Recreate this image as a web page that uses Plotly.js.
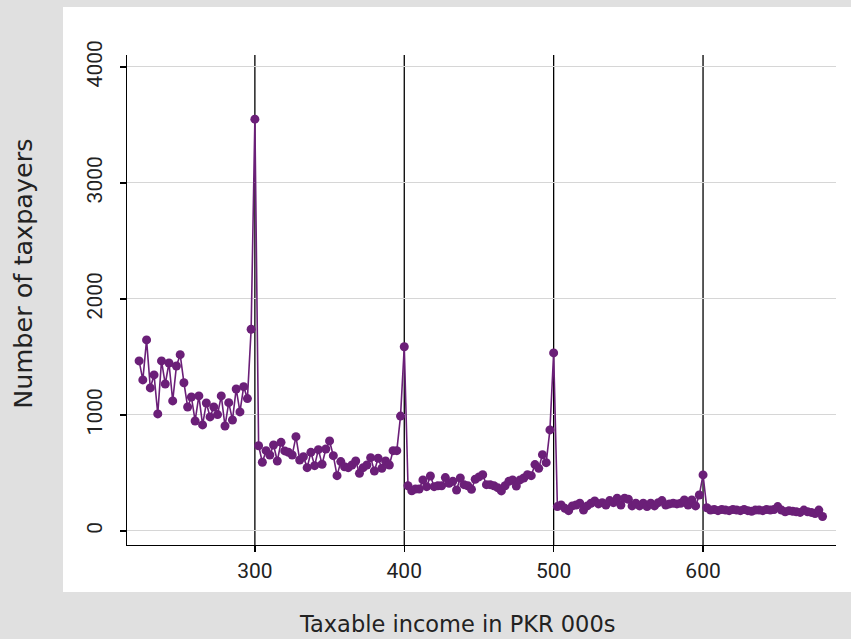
<!DOCTYPE html>
<html>
<head>
<meta charset="utf-8">
<script src="https://cdn.plot.ly/plotly-3.0.1.min.js"></script>
<style>html,body{margin:0;padding:0;background:#e0e0e0;}#chart{width:851px;height:639px;}</style>
</head>
<body>
<div id="chart"></div>
<script>
// Taxable income bins (PKR 000s)
const income = [
  222.5,225,227.5,230,232.5,235,237.5,240,242.5,245,247.5,250,252.5,255,257.5,260,262.5,265,267.5,270,272.5,275,277.5,280,282.5,285,287.5,290,292.5,295,297.5,
  300,
  302.5,305,307.5,310,312.5,315,317.5,320,322.5,325,327.5,330,332.5,335,337.5,340,342.5,345,347.5,350,352.5,355,357.5,360,362.5,365,367.5,370,372.5,375,377.5,380,382.5,385,387.5,390,392.5,395,397.5,
  400,
  402.5,405,407.5,410,412.5,415,417.5,420,422.5,425,427.5,430,432.5,435,437.5,440,442.5,445,447.5,450,452.5,455,457.5,460,462.5,465,467.5,470,472.5,475,477.5,480,482.5,485,487.5,490,492.5,495,497.5,
  500,
  502.5,505,507.5,510,512.5,515,517.5,520,522.5,525,527.5,530,532.5,535,537.5,540,542.5,545,547.5,550,552.5,555,557.5,560,562.5,565,567.5,570,572.5,575,577.5,580,582.5,585,587.5,590,592.5,595,597.5,
  600,
  602.5,605,607.5,610,612.5,615,617.5,620,622.5,625,627.5,630,632.5,635,637.5,640,642.5,645,647.5,650,652.5,655,657.5,660,662.5,665,667.5,670,672.5,675,677.5,680
];
// Number of taxpayers per bin
const taxpayers = [
  1466,1302,1647,1233,1345,1009,1466,1267,1448,1121,1422,1520,1278,1069,1155,948,1164,914,1103,983,1069,1003,1164,905,1106,957,1224,1026,1244,1141,1739,
  3550,
  735,592,692,655,741,603,764,690,678,655,813,612,640,546,678,563,701,575,707,776,649,477,598,554,546,569,603,497,546,569,632,517,627,540,603,569,692,692,990,
  1588,
  390,347,362,362,440,382,474,382,390,390,460,411,428,353,457,399,390,359,446,466,485,399,399,390,373,345,390,428,440,388,440,457,485,477,572,540,658,589,871,
  1535,
  210,224,195,175,216,224,239,181,216,239,259,233,244,224,262,244,282,224,282,273,216,239,216,239,210,239,216,244,262,224,233,239,233,239,267,224,267,216,310,
  483,
  200,180,185,175,185,180,175,185,180,175,185,175,170,180,180,175,185,180,185,210,180,165,175,170,165,160,180,165,160,150,180,125
];
// Threshold reference lines
const thresholds = [300, 400, 500, 600];
const xTicks = [300, 400, 500, 600];
const yTicks = [0, 1000, 2000, 3000, 4000];
const xTitle = 'Taxable income in PKR 000s';
const yTitle = 'Number of taxpayers';

const purple = '#6b1f78';
const tickFont = 'Roboto, "Open Sans", sans-serif';
const titleFont = '"DejaVu Sans", "Open Sans", sans-serif';

const shapes = [{
  type: 'rect', xref: 'paper', yref: 'paper',
  x0: -0.0903, x1: 1.03, y0: -0.0959, y1: 1.098,
  fillcolor: '#ffffff', line: {width: 0}, layer: 'below'
}];
thresholds.forEach(t => shapes.push({
  type: 'line', xref: 'x', yref: 'paper', x0: t, x1: t, y0: 0, y1: 1,
  line: {color: '#000000', width: 1.3}, layer: 'below'
}));

const trace = {
  x: income, y: taxpayers, type: 'scatter', mode: 'lines+markers',
  line: {color: purple, width: 1.6},
  marker: {color: purple, size: 9},
  hoverinfo: 'x+y'
};

const layout = {
  width: 851, height: 639,
  paper_bgcolor: '#e0e0e0',
  plot_bgcolor: 'rgba(0,0,0,0)',
  margin: {l: 127, r: 15, t: 55, b: 94, pad: 0},
  showlegend: false,
  font: {family: tickFont, color: '#222222', size: 20},
  shapes: shapes,
  annotations: [
    {text: xTitle, xref: 'paper', yref: 'paper', x: 0.4654, y: -0.161,
     xanchor: 'center', yanchor: 'middle', showarrow: false,
     font: {family: titleFont, size: 22.5, color: '#222'}},
    {text: yTitle, xref: 'paper', yref: 'paper', x: -0.147, y: 0.553,
     xanchor: 'center', yanchor: 'middle', textangle: -90, showarrow: false,
     font: {family: titleFont, size: 25.5, color: '#222'}}
  ],
  xaxis: {
    range: [214.4, 689],
    tickvals: xTicks, ticktext: xTicks.map(String),
    ticks: 'outside', ticklen: 6, tickwidth: 1.3, tickcolor: '#000',
    showline: true, linecolor: '#000', linewidth: 1.3,
    showgrid: false, zeroline: false,
    tickfont: {family: tickFont, size: 21, color: '#222'},
    automargin: false
  },
  yaxis: {
    range: [-121, 4103],
    tickvals: yTicks, ticktext: yTicks.map(String),
    tickangle: -90,
    ticks: 'outside', ticklen: 6, tickwidth: 1.3, tickcolor: '#000',
    ticklabelstandoff: 9,
    showline: true, linecolor: '#000', linewidth: 1.3,
    showgrid: true, gridcolor: '#d6d6d6', gridwidth: 1, zeroline: false,
    tickfont: {family: tickFont, size: 21, color: '#222'},
    automargin: false
  }
};

Plotly.newPlot('chart', [trace], layout, {displayModeBar: false, staticPlot: true});
</script>
</body>
</html>
